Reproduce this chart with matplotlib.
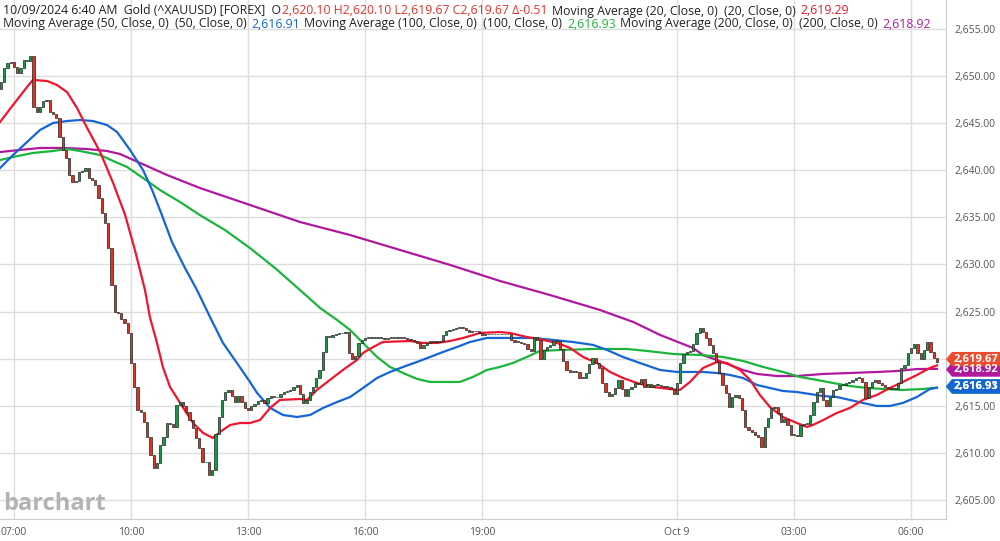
import matplotlib
matplotlib.use("Agg")
import matplotlib.pyplot as plt
from matplotlib.patches import Polygon
from matplotlib.transforms import blended_transform_factory
import numpy as np
import pandas as pd

plt.rcParams['font.family'] = ['Open Sans', 'DejaVu Sans']

# 5-minute gold bars, 10/08 06:40 -> 10/09 06:40
first_open = 2648.6
closes = [
    2649.4, 2650.9, 2651.4, 2651.5,
    2651.0, 2650.3, 2650.9, 2651.7, 2651.6, 2652.1, 2646.7, 2646.2, 2646.7, 2647.4, 2647.5, 2646.2,
    2646.0, 2645.5, 2643.5, 2642.2, 2641.3, 2639.5, 2638.8, 2638.9, 2639.8, 2639.9, 2640.2, 2639.2,
    2639.0, 2638.4, 2637.1, 2635.5, 2634.4, 2631.8, 2627.8, 2625.0, 2624.8, 2624.2, 2623.8, 2622.7,
    2619.5, 2617.0, 2614.6, 2614.3, 2613.3, 2611.7, 2609.8, 2608.4, 2608.9, 2610.8, 2611.7, 2613.2,
    2613.1, 2612.7, 2615.1, 2615.4, 2615.0, 2614.3, 2613.5, 2612.6, 2611.6, 2610.5, 2609.0, 2609.0,
    2607.6, 2608.2, 2612.0, 2613.8, 2615.6, 2616.5, 2616.7, 2616.0, 2615.4, 2616.0, 2615.4, 2614.8,
    2614.6, 2615.0, 2615.2, 2615.5, 2615.6, 2615.3, 2615.8, 2616.0, 2615.9, 2615.9, 2616.2, 2616.5,
    2616.6, 2616.7, 2617.0, 2617.2, 2616.2, 2615.3, 2615.6, 2616.5, 2617.0, 2618.0, 2618.8, 2620.7,
    2622.4, 2622.3, 2622.5, 2622.6, 2622.7, 2622.7, 2622.8, 2620.6, 2620.0, 2620.3, 2621.7, 2622.0,
    2622.2, 2622.2, 2622.3, 2622.2, 2622.2, 2622.2, 2622.1, 2622.2, 2622.2, 2622.2, 2622.3, 2622.2,
    2622.2, 2622.1, 2622.0, 2621.9, 2621.7, 2621.1, 2621.5, 2621.7, 2621.9, 2621.8, 2621.8, 2621.9,
    2622.5, 2622.9, 2623.0, 2623.2, 2623.3, 2623.4, 2623.3, 2623.0, 2622.8, 2622.9, 2622.9, 2622.7,
    2622.5, 2622.6, 2622.6, 2622.6, 2622.6, 2622.6, 2622.6, 2622.6, 2622.6, 2622.0, 2621.8, 2621.8,
    2621.7, 2621.6, 2621.0, 2620.8, 2622.3, 2622.0, 2620.0, 2620.9, 2621.2, 2621.4, 2621.9, 2621.9,
    2621.0, 2619.8, 2618.8, 2618.6, 2618.7, 2618.6, 2618.0, 2618.0, 2618.5, 2619.4, 2620.1, 2619.5,
    2619.0, 2617.4, 2616.5, 2616.0, 2616.2, 2616.9, 2617.7, 2616.8, 2616.0, 2616.8, 2617.0, 2617.4,
    2617.3, 2617.8, 2617.0, 2617.3, 2617.0, 2617.2, 2617.2, 2617.1, 2617.0, 2617.0, 2616.8, 2616.2,
    2617.4, 2619.5, 2620.5, 2620.7, 2620.8, 2621.6, 2622.7, 2623.3, 2622.8, 2622.2, 2621.5, 2620.6,
    2619.6, 2618.5, 2617.2, 2616.4, 2614.9, 2615.9, 2616.1, 2615.8, 2614.6, 2612.8, 2612.4, 2612.2,
    2611.9, 2611.7, 2610.6, 2612.8, 2613.7, 2614.8, 2614.9, 2614.2, 2613.3, 2613.6, 2613.0, 2611.9,
    2611.9, 2611.8, 2613.0, 2613.1, 2613.1, 2614.0, 2615.4, 2616.5, 2616.9, 2615.6, 2615.0, 2615.9,
    2616.7, 2616.8, 2617.2, 2617.2, 2617.4, 2617.5, 2617.7, 2618.0, 2618.0, 2617.5, 2615.8, 2617.0,
    2617.5, 2617.7, 2617.4, 2617.2, 2617.0, 2616.9, 2616.8, 2616.8, 2617.4, 2619.0, 2619.3, 2620.6,
    2621.1, 2621.6, 2620.6, 2620.0, 2620.9, 2621.8, 2620.7, 2620.1, 2619.67,
]

# moving averages (bar index, value)
ma20_idx = [-0.3, 3.7, 8.0, 9.8, 14.2, 17.2, 20.3, 23.4, 26.5, 30.5, 34.5, 38.2, 41.2, 44.3, 45.8, 48.0,
            49.8, 52.0, 55.1, 59.1, 62.2, 65.2, 67.4, 70.5, 73.5, 76.6, 79.7, 82.8, 85.8, 92.0, 94.2,
            97.2, 101.2, 105.2, 109.5, 111.4, 114.5, 117.5, 125.8, 129.8, 134.2, 138.2, 142.2, 147.4,
            153.5, 156.6, 161.8, 166.8, 171.1, 175.1, 179.1, 183.4, 187.4, 191.4, 195.7, 200.6, 205.8,
            208.9, 212.0, 216.0, 220.3, 223.4, 227.4, 230.5, 233.5, 236.6, 240.6, 244.9, 248.0, 249.8,
            253.0, 257.2, 261.2, 265.2, 269.5, 273.5, 277.5, 281.8, 285.8, 288.0]
ma20_val = [2645.13, 2646.93, 2648.84, 2649.59, 2649.48, 2649.06, 2648.31, 2646.61, 2644.49, 2641.94,
            2638.65, 2635.25, 2631.54, 2627.29, 2624.43, 2621.67, 2619.12, 2617.00, 2615.30, 2613.17,
            2612.11, 2611.58, 2612.22, 2612.96, 2613.17, 2613.17, 2613.49, 2614.77, 2615.62, 2615.72,
            2615.62, 2616.68, 2617.74, 2618.80, 2619.86, 2620.61, 2621.24, 2621.77, 2621.88, 2621.67,
            2621.67, 2621.88, 2622.20, 2622.73, 2622.83, 2622.73, 2622.30, 2621.99, 2621.67, 2621.14,
            2620.18, 2619.54, 2618.59, 2617.95, 2617.42, 2617.00, 2616.78, 2616.68, 2617.53, 2619.01,
            2619.65, 2619.54, 2618.80, 2617.74, 2616.15, 2614.87, 2613.81, 2613.17, 2612.75, 2612.96,
            2613.49, 2614.24, 2614.77, 2615.62, 2616.15, 2616.89, 2617.53, 2618.27, 2619.01, 2619.29]

ma50_idx = [-0.3, 3.7, 8.0, 12.0, 16.0, 20.3, 24.3, 28.3, 32.6, 35.7, 39.7, 43.7, 46.5, 49.5, 52.6, 56.6,
            60.3, 64.3, 68.3, 72.6, 76.6, 78.8, 82.8, 86.8, 91.1, 95.1, 99.1, 103.4, 107.4, 111.4, 115.7,
            119.7, 123.7, 128.0, 132.0, 136.0, 140.3, 144.3, 149.5, 157.5, 163.7, 169.8, 176.0, 182.2,
            186.5, 191.4, 196.6, 202.8, 208.0, 216.0, 220.3, 224.3, 228.3, 232.6, 236.6, 240.6, 244.9,
            248.9, 252.9, 257.2, 261.2, 265.2, 269.5, 273.5, 277.5, 281.8, 285.8, 288.0]
ma50_val = [2640.24, 2641.62, 2643.00, 2644.28, 2645.02, 2645.23, 2645.34, 2645.23, 2644.81, 2644.07,
            2642.16, 2640.03, 2637.91, 2635.25, 2632.39, 2629.63, 2627.29, 2624.43, 2621.67, 2619.54,
            2617.53, 2616.36, 2614.77, 2614.02, 2613.81, 2614.02, 2614.77, 2615.40, 2615.93, 2616.89,
            2617.95, 2618.59, 2619.12, 2619.65, 2620.18, 2620.71, 2621.24, 2621.77, 2622.20, 2622.20,
            2622.20, 2621.99, 2621.77, 2621.46, 2620.92, 2620.18, 2619.54, 2618.80, 2618.59, 2618.59,
            2618.48, 2618.27, 2617.95, 2617.21, 2616.89, 2616.57, 2616.46, 2616.25, 2616.04, 2615.93,
            2615.62, 2615.30, 2614.98, 2614.98, 2615.30, 2615.93, 2616.78, 2616.91]

ma100_idx = [-0.3, 3.7, 9.8, 16.0, 20.3, 24.3, 30.5, 34.5, 38.8, 43.7, 48.9, 55.1, 61.2, 68.9, 76.6, 84.3,
             92.0, 98.2, 103.4, 107.4, 111.4, 115.7, 119.7, 123.7, 128.0, 132.0, 136.0, 141.2, 145.2,
             149.5, 153.5, 157.5, 161.8, 165.8, 172.0, 182.2, 192.6, 198.8, 206.8, 215.1, 222.2, 228.3,
             234.5, 240.6, 245.8, 251.1, 256.0, 261.2, 266.5, 271.4, 277.5, 283.7, 288.0]
ma100_val = [2641.09, 2641.41, 2641.84, 2642.05, 2642.26, 2642.05, 2641.62, 2640.99, 2640.35, 2639.18,
             2637.91, 2636.63, 2635.25, 2633.66, 2631.75, 2629.63, 2627.29, 2625.38, 2624.11, 2623.05,
             2621.67, 2620.18, 2619.12, 2618.48, 2617.85, 2617.53, 2617.53, 2617.53, 2618.06, 2618.80,
             2619.12, 2619.54, 2620.18, 2620.82, 2620.92, 2621.03, 2621.03, 2620.82, 2620.50, 2620.39,
             2620.18, 2619.76, 2619.12, 2618.59, 2618.06, 2617.74, 2617.42, 2617.10, 2616.89, 2616.78,
             2616.68, 2616.78, 2616.93]

ma200_idx = [-0.3, 5.8, 12.0, 19.1, 26.5, 32.6, 36.6, 42.8, 51.1, 61.2, 76.6, 92.0, 107.4, 122.8, 138.2,
             153.5, 168.9, 184.3, 194.5, 202.8, 212.9, 216.0, 220.3, 224.3, 228.3, 232.6, 238.8, 244.9,
             253.0, 261.2, 269.5, 275.7, 281.8, 288.0]
ma200_val = [2641.94, 2642.16, 2642.37, 2642.37, 2642.26, 2642.05, 2641.73, 2640.78, 2639.50, 2638.12,
             2636.32, 2634.51, 2633.13, 2631.54, 2629.95, 2628.25, 2626.76, 2625.17, 2623.90, 2622.52,
             2621.14, 2620.39, 2619.86, 2619.33, 2618.80, 2618.38, 2618.16, 2618.16, 2618.38, 2618.48,
             2618.59, 2618.69, 2618.90, 2618.92]

price_ticks = [2605, 2610, 2615, 2620, 2625, 2630, 2635, 2640, 2645, 2650, 2655]
tick_stamps = ['2024-10-08 07:00', '2024-10-08 10:00', '2024-10-08 13:00', '2024-10-08 16:00',
               '2024-10-08 19:00', '2024-10-09 00:00', '2024-10-09 03:00', '2024-10-09 06:00']
tick_labels = ['07:00', '10:00', '13:00', '16:00', '19:00', 'Oct 9', '03:00', '06:00']

c_up, c_dn = '#169b45', '#e0331f'
c_ma20, c_ma50, c_ma100, c_ma200 = '#f0162d', '#1466d6', '#1cb53c', '#b0189e'
c_txt = '#222222'

closes = np.array(closes)
opens = np.concatenate([[first_open], closes[:-1]])
idx = np.arange(len(closes))
times = pd.date_range('2024-10-08 06:40', periods=len(closes), freq='5min')
tick_pos = times.get_indexer(pd.to_datetime(tick_stamps))

W, H = 1000, 541
fig = plt.figure(figsize=(W / 100, H / 100), dpi=100)
ax = fig.add_axes([0, 22 / H, 946 / W, 519 / H])
ax.set_xlim(-0.31, 290.77)
ax.set_ylim(2602.98, 2658.08)

# grid + axes
ax.set_xticks(tick_pos)
ax.set_xticklabels(tick_labels)
ax.set_yticks(price_ticks)
ax.set_yticklabels([f'{p:,.2f}' for p in price_ticks])
ax.yaxis.tick_right()
ax.tick_params(axis='both', length=0, labelsize=7.5, colors='#555555')
ax.tick_params(axis='y', pad=6)
ax.tick_params(axis='x', pad=6)
ax.grid(True, color='#dddddd', linewidth=1)
ax.set_axisbelow(True)
for s in ['left', 'top']:
    ax.spines[s].set_visible(False)
for s in ['right', 'bottom']:
    ax.spines[s].set_color('#cccccc')

# moving averages
ax.plot(ma200_idx, ma200_val, color=c_ma200, lw=1.6, zorder=2)
ax.plot(ma100_idx, ma100_val, color=c_ma100, lw=1.6, zorder=2)
ax.plot(ma50_idx, ma50_val, color=c_ma50, lw=1.6, zorder=2)
ax.plot(ma20_idx, ma20_val, color=c_ma20, lw=1.6, zorder=2)

# candles
body = np.abs(closes - opens)
bottoms = np.minimum(closes, opens)
heights = np.maximum(body, 0.06)
colors = np.where(closes >= opens, c_up, c_dn)
ax.bar(idx, heights, bottom=bottoms, width=0.72, color=colors, edgecolor='#222222',
       linewidth=0.5, zorder=3)

# last value tags on the right axis (drawn back to front, like the source)
trans = blended_transform_factory(fig.transFigure, ax.transData)
half = 7.2 / 9.42
tags = [(2616.93, 2617.05, c_ma100), (2616.91, 2617.05, c_ma50),
        (2618.92, 2618.85, c_ma200), (2619.67, 2619.95, '#ee4a2c')]
for val, ypos, col in tags:
    poly = Polygon([(0.946, ypos), (0.952, ypos + half), (1.0, ypos + half), (1.0, ypos - half),
                    (0.952, ypos - half)], closed=True, facecolor=col, edgecolor='none',
                   transform=trans, clip_on=False, zorder=5)
    ax.add_patch(poly)
    ax.text(0.976, ypos, f'{val:,.2f}', transform=trans, ha='center', va='center', color='white',
            fontsize=8, fontweight='bold', clip_on=False, zorder=6)

# header legend lines: pieces are chained by their drawn extents plus a gap (px)
fig.canvas.draw()
renderer = fig.canvas.get_renderer()


def draw_line(pieces, y_px, size):
    x = 3
    for s, col, gap in pieces:
        t = fig.text(x / W, 1 - y_px / H, s, fontsize=size, color=col, va='center', ha='left')
        x = t.get_window_extent(renderer).x1 + gap


draw_line([('10/09/2024 6:40 AM  Gold (^XAUUSD) [FOREX]  O', c_txt, 1.0),
           ('2,620.10 H2,620.10 L2,619.67 C2,619.67 \u0394-0.51', '#e8332a', 4.5),
           ('Moving Average (20, Close, 0)  (20, Close, 0)', c_txt, 4.5),
           ('2,619.29', c_ma20, 0)], 11, 8.8)
draw_line([('Moving Average (50, Close, 0)  (50, Close, 0)', c_txt, 4.5),
           ('2,616.91', c_ma50, 4.5),
           ('Moving Average (100, Close, 0)  (100, Close, 0)', c_txt, 4.5),
           ('2,616.93', c_ma100, 4.5),
           ('Moving Average (200, Close, 0)  (200, Close, 0)', c_txt, 4.5),
           ('2,618.92', c_ma200, 0)], 24, 8.8)

fig.text(3 / W, 1 - 504 / H, 'barchart', fontsize=17, fontweight='bold', color='#b3b3b3',
         va='center', ha='left')

fig.savefig('out.png', dpi=100)
